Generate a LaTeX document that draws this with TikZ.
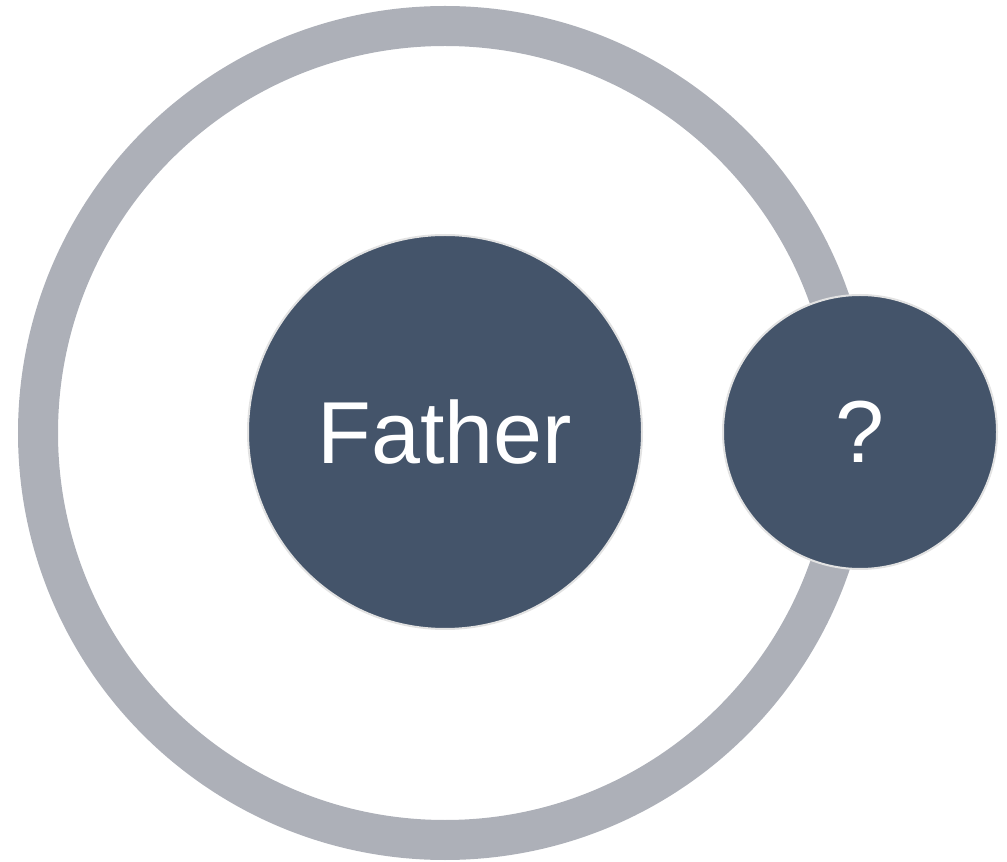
\documentclass[tikz,border=0pt]{standalone}
\usepackage{fontspec}
\setmainfont{Liberation Sans}
\usepackage{tikz}
\usetikzlibrary{positioning}
\definecolor{ringgray}{HTML}{ADB0B8}
\definecolor{slateblue}{HTML}{44546A}
\definecolor{rimgray}{HTML}{E2E2E2}
\tikzset{
  person/.style={circle,fill=slateblue,draw=rimgray,line width=1.5pt,
    text=white,inner sep=0pt,font=\fontsize{66}{70}\selectfont}
}

\begin{document}
\begin{tikzpicture}[x=0.75pt,y=-0.75pt]
  \useasboundingbox (0,0) rectangle (1007,862);
  \draw[ringgray,line width=30pt] (445,433) circle (407);
  \node[person,minimum size=295.5pt] (father) at (445,432) {Father};
  \node[person,minimum size=205.5pt] (other) at (860,432) {?};
\end{tikzpicture}
\end{document}
